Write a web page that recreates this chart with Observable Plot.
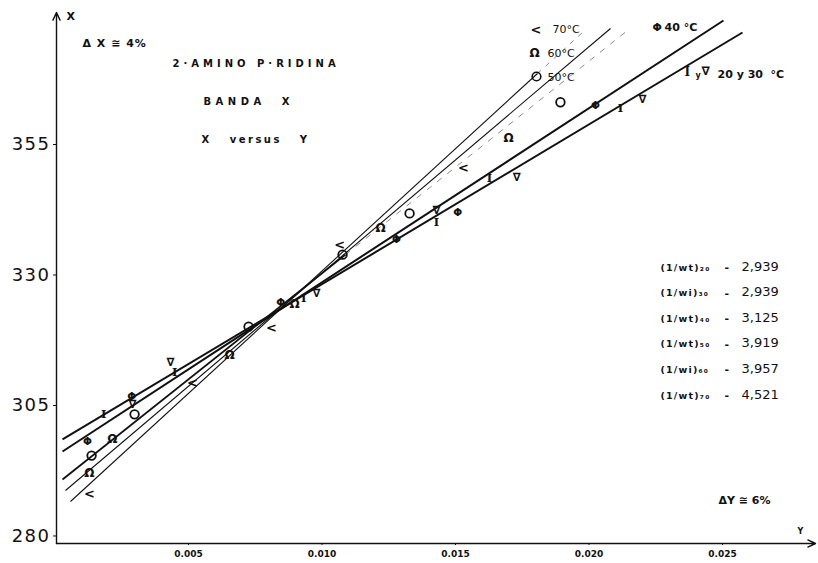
<!DOCTYPE html>
<html><head><meta charset="utf-8">
<script src="https://cdn.jsdelivr.net/npm/d3@7"></script>
<script src="https://cdn.jsdelivr.net/npm/@observablehq/plot@0.6"></script>
<style>
body{margin:0;background:#fff;}
#chart svg{display:block;}
</style></head><body><div id="chart"></div>
<script>
// ---- data (X = Raman band position, Y = concentration) ----
const series = ["20 °C", "30 °C", "40 °C", "50 °C", "60 °C", "70 °C"];
const glyphs = ["I", "∇", "Φ", "O", "Ω", "<"];

const x20 = [0.00182, 0.00448, 0.00931, 0.01429, 0.01627, 0.02118];
const y20 = [303.3, 311.3, 325.5, 340.1, 348.5, 361.9];
const x30 = [0.00290, 0.00433, 0.00979, 0.01429, 0.01729, 0.02200];
const y30 = [305.2, 313.2, 326.5, 342.4, 348.7, 363.6];
const x40 = [0.00122, 0.00287, 0.00845, 0.01279, 0.01508, 0.02024];
const y40 = [298.1, 306.7, 324.7, 336.8, 342.0, 362.5];
const x50 = [0.00137, 0.00298, 0.00725, 0.01077, 0.01328, 0.01893];
const y50 = [295.4, 303.3, 320.1, 333.9, 341.8, 363.1];
const x60 = [0.00129, 0.00215, 0.00654, 0.00897, 0.01219, 0.01699];
const y60 = [292.0, 298.5, 314.6, 324.4, 338.9, 356.3];
const x70 = [0.00129, 0.00515, 0.00811, 0.01066, 0.01530];
const y70 = [288.1, 309.4, 319.8, 335.7, 350.6];

// fitted straight lines (endpoints)
const lineNames = ["20 y 30 °C", "40 °C", "50 °C", "50 °C ext", "60 °C", "70 °C", "70 °C ext"];
const lineX1 = [0.000281, 0.000281, 0.000281, 0.010880, 0.000393, 0.000581, 0.018071];
const lineY1 = [298.49, 296.19, 290.82, 333.91, 288.72, 286.61, 368.60];
const lineX2 = [0.025749, 0.025037, 0.010880, 0.021442, 0.020805, 0.018071, 0.019794];
const lineY2 = [376.46, 378.76, 333.91, 376.84, 377.22, 368.60, 376.65];

const xTicks = [0.005, 0.010, 0.015, 0.020, 0.025];
const yTicks = [280, 305, 330, 355];

const wtLabels = ["(1/wt)₂₀", "(1/wi)₃₀", "(1/wt)₄₀", "(1/wt)₅₀", "(1/wi)₆₀", "(1/wt)₇₀"];
const wtValues = ["2,939", "2,939", "3,125", "3,919", "3,957", "4,521"];

// ---- tables ----
const xs = [x20, x30, x40, x50, x60, x70];
const ys = [y20, y30, y40, y50, y60, y70];
const points = series.flatMap((s, i) => xs[i].map((x, j) => ({series: s, glyph: glyphs[i], x, y: ys[i][j]})));
const segs = lineNames.map((n, i) => ({name: n, x1: lineX1[i], y1: lineY1[i], x2: lineX2[i], y2: lineY2[i]}));
const lineStyle = {
  "20 y 30 °C": {w: 2.0, dash: null, op: 1},
  "40 °C": {w: 2.0, dash: null, op: 1},
  "50 °C": {w: 1.8, dash: null, op: 1},
  "50 °C ext": {w: 0.9, dash: "6,7", op: 0.55},
  "60 °C": {w: 1.1, dash: null, op: 1},
  "70 °C": {w: 1.1, dash: null, op: 1},
  "70 °C ext": {w: 0.9, dash: "5,6", op: 0.55}
};

const xDom = [0.000056, 0.028483];
const yDom = [278.56, 380.29];
const ML = 56, MT = 12;
// place annotation text at page-pixel positions inside the frame
const at = (px, py) => ({frameAnchor: "top-left", dx: px - ML, dy: py - MT});
const txt = (s, px, py, o = {}) => Plot.text([s], {...at(px, py), text: d => d, textAnchor: "start", lineAnchor: "middle", fill: "#111", fontWeight: "bold", fontSize: 11, ...o});
const markerText = (data, o = {}) => Plot.text(data, {x: "x", y: "y", text: "glyph", fontWeight: "bold", fill: "#111", lineAnchor: "middle", ...o});

const wtMarks = wtLabels.flatMap((lab, i) => {
  const py = 267 + i * 25.6;
  return [
    txt(lab, 660, py, {fontSize: 9.5}),
    txt("-", 724, py, {fontSize: 11}),
    txt(wtValues[i], 741, py - 1, {fontSize: 13, fontWeight: "normal"})
  ];
});

const chart = Plot.plot({
  width: 818, height: 563,
  marginLeft: ML, marginRight: 3, marginTop: MT, marginBottom: 20,
  style: {fontFamily: "DejaVu Sans", background: "#fff", color: "#111", overflow: "visible"},
  x: {domain: xDom},
  y: {domain: yDom},
  marks: [
    // axes
    Plot.arrow([0], {x1: xDom[0], y1: yDom[0], x2: xDom[1], y2: yDom[0], stroke: "#111", strokeWidth: 1.4, headLength: 9, headAngle: 50}),
    Plot.arrow([0], {x1: xDom[0], y1: yDom[0], x2: xDom[0], y2: yDom[1], stroke: "#111", strokeWidth: 1.4, headLength: 9, headAngle: 50}),
    Plot.axisY({ticks: yTicks, tickFormat: d => String(d), fontSize: 18, tickSize: 3, tickPadding: 3, label: null, stroke: "#111", fill: "#111"}),
    Plot.axisX({ticks: xTicks, tickFormat: d => d3.format(".3f")(d), fontSize: 9, fontWeight: "bold", tickSize: 2, tickPadding: 5, label: null, stroke: "#111", fill: "#111"}),
    // fitted lines
    ...segs.map(s => Plot.link([s], {x1: "x1", y1: "y1", x2: "x2", y2: "y2", stroke: "#111",
      strokeWidth: lineStyle[s.name].w, strokeDasharray: lineStyle[s.name].dash, strokeOpacity: lineStyle[s.name].op})),
    // data markers
    markerText(points.filter(d => d.glyph === "I"), {fontFamily: "DejaVu Serif", fontSize: 11.5}),
    markerText(points.filter(d => d.glyph === "∇"), {fontSize: 11.5}),
    markerText(points.filter(d => d.glyph === "Φ"), {fontSize: 10.5}),
    Plot.dot(points.filter(d => d.glyph === "O"), {x: "x", y: "y", r: 4.3, stroke: "#111", strokeWidth: 1.8, fill: "none"}),
    markerText(points.filter(d => d.glyph === "Ω"), {fontSize: 12}),
    markerText(points.filter(d => d.glyph === "<"), {fontSize: 13}),
    // axis names
    txt("X", 66, 16, {fontSize: 11}),
    txt("Y", 797, 531, {fontSize: 8}),
    // annotations
    txt("Δ X ≅ 4%", 82, 43, {fontSize: 11}),
    txt("2·AMINO P·RIDINA", 172, 63, {fontSize: 10}),
    txt("BANDA  X", 203, 101, {fontSize: 10}),
    txt("X   versus   Y", 201, 139, {fontSize: 10}),
    // legend
    txt("<", 530, 29, {fontSize: 13}),
    txt("70°C", 552, 29, {fontSize: 11, fontWeight: "normal"}),
    txt("Ω", 529, 53, {fontSize: 12}),
    txt("60°C", 547, 53, {fontSize: 11, fontWeight: "normal"}),
    Plot.dot([0], {...at(536, 76), r: 4.3, stroke: "#111", strokeWidth: 1.6, fill: "none"}),
    txt("50°C", 547, 77, {fontSize: 11, fontWeight: "normal"}),
    txt("Φ", 652, 27, {fontSize: 11}),
    txt("40 °C", 664, 27, {fontSize: 11}),
    txt("I", 684, 72, {fontSize: 12, fontFamily: "DejaVu Serif"}),
    txt("y", 695, 75, {fontSize: 8}),
    txt("∇", 701, 71, {fontSize: 12}),
    txt("20 y 30  °C", 717, 74, {fontSize: 11}),
    // (1/wt) block
    ...wtMarks,
    txt("ΔY ≅ 6%", 718, 500, {fontSize: 11})
  ]
});
// letter-spacing for hand-lettered texts
const spacing = {"2·AMINO P·RIDINA": "4px", "BANDA  X": "4.5px", "X   versus   Y": "2.5px", "Δ X ≅ 4%": "1px"};
const yTickStr = yTicks.map(String);
d3.select(chart).selectAll("text").each(function() {
  const t = this.textContent;
  if (spacing[t]) this.setAttribute("letter-spacing", spacing[t]);
  if (wtLabels.includes(t)) this.setAttribute("letter-spacing", "1.2px");
  if (yTickStr.includes(t)) this.setAttribute("letter-spacing", "1.5px");
});
document.getElementById("chart").append(chart);
</script></body></html>
